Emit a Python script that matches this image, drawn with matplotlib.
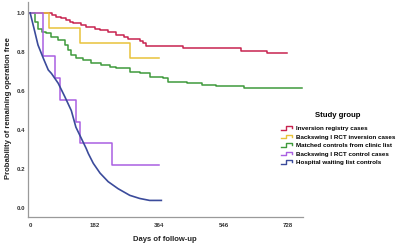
import numpy as np
import matplotlib
matplotlib.use("Agg")
import matplotlib.pyplot as plt
from matplotlib.legend_handler import HandlerBase
from matplotlib.lines import Line2D

plt.rcParams["font.family"] = ["Liberation Sans", "DejaVu Sans"]

# Kaplan-Meier step curves (days, probability)
reg_t = [0, 62, 74, 88, 102, 112, 121, 144, 158, 182, 196, 219, 242, 266, 275,
         309, 318, 326, 430, 595, 669, 711, 725]
reg_s = [1.0, 0.99, 0.981, 0.972, 0.964, 0.955, 0.947, 0.938, 0.93, 0.92, 0.912,
         0.904, 0.887, 0.878, 0.866, 0.856, 0.845, 0.829, 0.82, 0.806, 0.793, 0.793, 0.793]

bsi_t = [0, 52, 140, 281, 362]
bsi_s = [1.0, 0.923, 0.846, 0.769, 0.769]

mc_t = [0, 13, 22, 32, 46, 60, 79, 98, 107, 116, 130, 149, 172, 200, 224, 242,
        281, 309, 337, 374, 388, 441, 486, 525, 604, 767]
mc_s = [1.0, 0.955, 0.92, 0.904, 0.896, 0.878, 0.86, 0.836, 0.81, 0.785, 0.768,
        0.76, 0.742, 0.734, 0.725, 0.717, 0.70, 0.69, 0.673, 0.665, 0.648, 0.64,
        0.632, 0.624, 0.616, 0.616]

bsc_t = [0, 36, 70, 84, 129, 140, 230, 362]
bsc_s = [1.0, 0.778, 0.667, 0.556, 0.444, 0.333, 0.222, 0.222]

hw_t = [0, 13, 22, 37, 51, 60, 79, 98, 116, 129, 149, 158, 164, 178, 197, 220,
        248, 281, 309, 337, 370]
hw_s = [1.0, 0.904, 0.836, 0.768, 0.708, 0.69, 0.64, 0.57, 0.50, 0.415, 0.34,
        0.306, 0.28, 0.23, 0.18, 0.136, 0.10, 0.066, 0.05, 0.04, 0.04]

labels = ["Inversion registry cases", "Backswing I RCT inversion cases",
          "Matched controls from clinic list", "Backswing I RCT control cases",
          "Hospital waiting list controls"]
colors = ["#c8234f", "#e8c23a", "#3f9a3c", "#a95fe2", "#3b4b9b"]
xticks = [0, 182, 364, 546, 728]
yticks = [0.0, 0.2, 0.4, 0.6, 0.8, 1.0]


class StepHandler(HandlerBase):
    # small step-shaped glyph like the SPSS legend
    def create_artists(self, legend, orig, xd, yd, w, h, fs, trans):
        x0, y0 = -xd, -yd
        xs = [x0, x0 + w * 0.4, x0 + w * 0.4, x0 + w * 0.9, x0 + w * 0.9]
        ys = [y0 + h * 0.1, y0 + h * 0.1, y0 + h * 0.9, y0 + h * 0.9, y0 + h * 0.5]
        ln = Line2D(xs, ys, color=orig.get_color(), lw=1.0)
        ln.set_transform(trans)
        return [ln]


fig = plt.figure(figsize=(4, 2.46), dpi=100)
ax = fig.add_axes([0.071, 0.117, 0.686, 0.875])

curves = [(reg_t, reg_s), (bsi_t, bsi_s), (mc_t, mc_s), (bsc_t, bsc_s)]
lines = []
for (t, s), c, lab in zip(curves, colors[:4], labels[:4]):
    ln, = ax.plot(t, s, drawstyle="steps-post", color=c, lw=1.1, label=lab)
    lines.append(ln)
ln, = ax.plot(hw_t, hw_s, color=colors[4], lw=1.2, label=labels[4])
lines.append(ln)

ax.set_xlim(-5, 769)
ax.set_ylim(-0.046, 1.056)
ax.set_xticks(xticks)
ax.set_xticklabels([str(v) for v in xticks])
ax.set_yticks(yticks)
ax.set_yticklabels([f"{v:.1f}" for v in yticks])
ax.tick_params(axis="y", length=0, labelsize=4.4, pad=2.5)
ax.tick_params(axis="x", length=0, labelsize=4.4, pad=4)
for lab in ax.get_xticklabels() + ax.get_yticklabels():
    lab.set_fontweight("bold")
    lab.set_color("#333333")
for sp in ["top", "right"]:
    ax.spines[sp].set_visible(False)
for sp in ["left", "bottom"]:
    ax.spines[sp].set_color("#9a9a9a")
    ax.spines[sp].set_linewidth(0.9)

fig.text(0.4125, 0.026, "Days of follow-up", ha="center", va="center",
         fontsize=5.5, fontweight="bold", color="#222222")
fig.text(0.021, 0.56, "Probability of remaining operation free", ha="center",
         va="center", rotation=90, fontsize=5.6, fontweight="bold", color="#222222")

leg = fig.legend(handles=lines, labels=labels, loc="upper left",
                 bbox_to_anchor=(0.703, 0.545), frameon=False,
                 title="Study group", prop={"size": 4.5, "weight": "bold"},
                 handler_map={Line2D: StepHandler()}, handlelength=2.0,
                 handletextpad=0.35, labelspacing=0.5, borderpad=0, borderaxespad=0)
leg.get_title().set_fontsize(5.6)
leg.get_title().set_fontweight("bold")
leg._legend_box.sep = 5

fig.savefig("out.png", dpi=100)
